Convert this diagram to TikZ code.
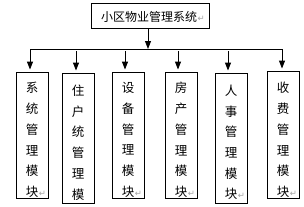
\documentclass[tikz,border=0pt]{standalone}
\usepackage{fontspec}
\newfontfamily\cjk{Noto Sans CJK SC}
\newfontfamily\symf{DejaVu Sans}
\usetikzlibrary{arrows.meta}
\definecolor{retgray}{RGB}{165,165,165}
\newcommand\retm{\rlap{\hspace{0.5pt}\textcolor{retgray}{\symf\fontsize{8.5}{8.5}\selectfont ↵}}}
\begin{document}
\begin{tikzpicture}[x=1pt,y=-1pt,
  box/.style={draw, line width=0.9pt, minimum width=32pt, inner sep=0pt},
  vtext/.style={font=\cjk\fontsize{12.5}{20.7}\selectfont, align=center, inner sep=0pt},
  conn/.style={line width=0.9pt},
  arr/.style={conn, -{Triangle[length=8pt,width=6pt]}}]
\useasboundingbox[fill=white] (0,0) rectangle (304,206);
% title
\node[box, minimum width=118pt, minimum height=25pt] (top) at (150,15.5) {};
\node[vtext, font=\cjk\fontsize{12}{14}\selectfont] (toptext) at (149,16.5) {小区物业管理系统\retm};
% module boxes
\node[box, minimum height=126pt] (b1) at (32,135) {};
\node[box, minimum height=130pt] (b2) at (78,138) {};
\node[box, minimum height=126pt] (b3) at (128,135) {};
\node[box, minimum height=126pt] (b4) at (181,135) {};
\node[box, minimum height=130pt] (b5) at (231,138) {};
\node[box, minimum height=127pt] (b6) at (283,134.5) {};
\node[vtext] (t1) at (32,140) {系\\统\\管\\理\\模\\块\retm};
\node[vtext] (t2) at (78,142.5) {住\\户\\统\\管\\理\\模};
\node[vtext] (t3) at (128,140) {设\\备\\管\\理\\模\\块\retm};
\node[vtext] (t4) at (181,140) {房\\产\\管\\理\\模\\块\retm};
\node[vtext] (t5) at (231,142.5) {人\\事\\管\\理\\模\\块\retm};
\node[vtext] (t6) at (283,140) {收\\费\\管\\理\\模\\块\retm};
% connectors
\coordinate (j) at (148,49);
\coordinate (hL) at (30,49);
\coordinate (hR) at (282,49);
\coordinate (s2) at (76,51);
\coordinate (s3) at (125,51);
\coordinate (s4) at (178,51);
\coordinate (s5) at (228,51);
\draw[conn] (hL) -- (hR);
\draw[arr] (top.south -| j) -- (j);
\draw[arr, shorten >=2pt] (hL) -- (b1.north -| hL);
\draw[arr, shorten >=2pt] (s2) -- (b2.north -| s2);
\draw[arr, shorten >=2pt] (s3) -- (b3.north -| s3);
\draw[arr, shorten >=2pt] (s4) -- (b4.north -| s4);
\draw[arr, shorten >=2pt] (s5) -- (b5.north -| s5);
\draw[arr, shorten >=2pt] (hR) -- (b6.north -| hR);
\end{tikzpicture}
\end{document}
